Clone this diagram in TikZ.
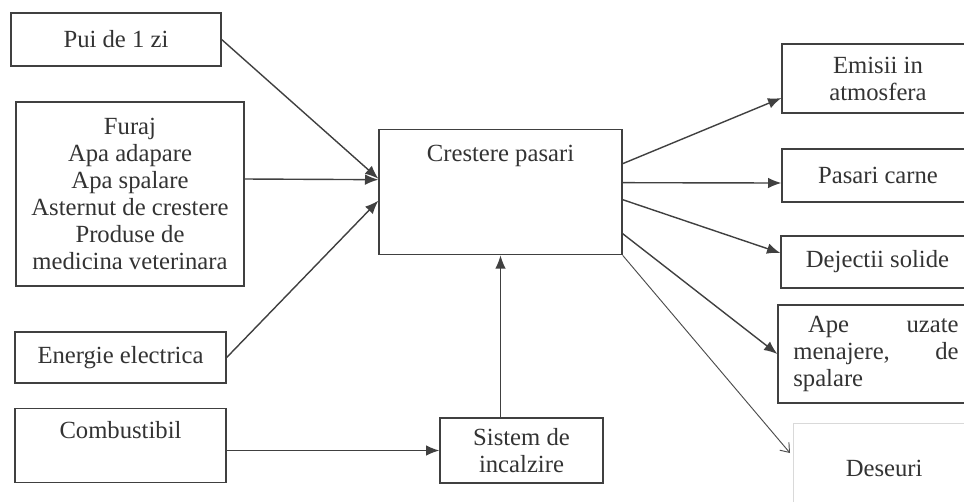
\documentclass[tikz,border=0pt]{standalone}
\usepackage{fontspec}
\setmainfont{Liberation Serif}
\usetikzlibrary{arrows.meta, calc, positioning}

\begin{document}
\begin{tikzpicture}
  [x=0.75pt, y=-0.75pt,
   font=\fontsize{18.5}{20.25}\selectfont,
   box/.style={rectangle, draw=black!75, line width=1pt, text=black!80,
               inner sep=0pt, align=center},
   flow/.style={draw=black!75, line width=1.05pt,
                -{Latex[length=10pt,width=8pt]}},
   faint/.style={draw=black!70, line width=0.7pt,
                 -{Straight Barb[length=6pt,width=9pt]}}]
   \useasboundingbox (0,0) rectangle (964,501);
   \clip (0,0) rectangle (964,501);
   \fill[white] (0,0) rectangle (964,501);
   \node[box, minimum width=157.5pt, minimum height=39.75pt]
        (pui)      at (116,39.5)    {Pui de 1 zi};
   \node[box, minimum width=171pt, minimum height=138pt]
        (inputs)   at (130,194)     {Furaj\\Apa adapare\\Apa spalare\\
                                     Asternut de crestere\\Produse de\\
                                     medicina veterinara};
   \node[box, minimum width=158.25pt, minimum height=38.25pt]
        (energie)  at (120.5,357.5) {Energie electrica};
   \node[box, minimum width=158.25pt, text height=22.5pt, text depth=33pt,
         anchor=north]
        (comb)     at (120.5,408)   {Combustibil};
   \node[box, minimum width=182.25pt, text height=24pt, text depth=69.75pt,
         anchor=north]
        (crestere) at (500.5,129)   {Crestere pasari};
   \node[box, minimum width=122.25pt, minimum height=48.75pt]
        (sistem)   at (521.5,450.5) {Sistem de\\incalzire};
   \node[box, minimum width=144pt, minimum height=51.75pt]
        (emisii)   at (878,78.5)    {Emisii in\\atmosfera};
   \node[box, minimum width=144pt, minimum height=39.75pt]
        (pasari)   at (878,175.5)   {Pasari carne};
   \node[box, minimum width=144.75pt, minimum height=39pt]
        (dejectii) at (877.5,262)   {Dejectii solide};
   \node[box, minimum width=147pt, minimum height=73.5pt, text width=124pt,
         align=left]
        (ape)      at (876,354)     {\hspace*{11pt}Ape\hfill uzate\\
                                     menajere,\hfill de\\spalare};
   \node[box, draw=black!15, minimum width=135.75pt, minimum height=67.5pt,
         anchor=north west]
        (deseuri)  at (793,423)     {Deseuri};

   \draw[flow] (pui.east) -- ($(crestere.west)+(0,-13.5)$);
   \draw[flow] ($(inputs.east)+(0,-15)$) -- ($(crestere.west)+(0,-12.5)$);
   \draw[flow] (energie.east) -- ($(crestere.west)+(0,8.5)$);
   \draw[flow] (comb.east |- sistem.west) -- (sistem.west);
   \draw[flow] (sistem.north -| crestere.south) -- (crestere.south);
   \draw[flow] ($(crestere.east)+(0,-28.5)$) -- ($(emisii.west)+(0,19.5)$);
   \draw[flow] ($(crestere.east)+(0,-9.5)$) -- ($(pasari.west)+(0,7.5)$);
   \draw[flow] ($(crestere.east)+(0,7.5)$) -- ($(dejectii.west)+(0,-9)$);
   \draw[flow] ($(crestere.east)+(0,41.5)$) -- (ape.west);
   \draw[faint] (crestere.south east) -- ($(deseuri.north west)+(-3,30)$);
\end{tikzpicture}
\end{document}
